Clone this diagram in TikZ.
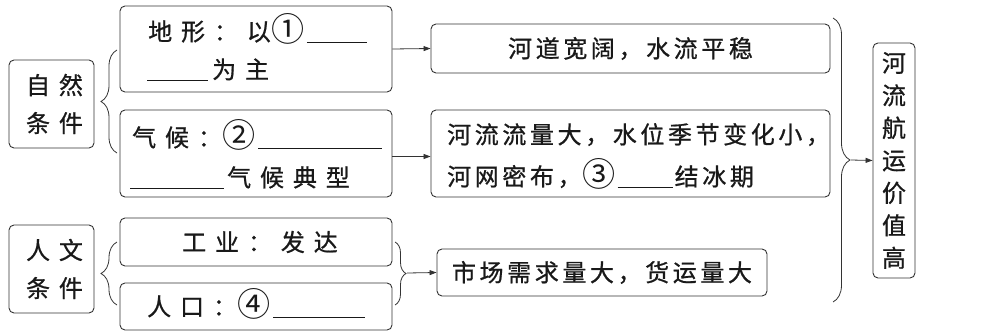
\documentclass[tikz,border=0pt]{standalone}
\usepackage{fontspec}
\newfontfamily\cjkL[LetterSpace=37,FakeBold=0.8]{Noto Sans CJK SC}
\newfontfamily\cjkR[LetterSpace=15,FakeBold=0.8]{Noto Sans CJK SC}
\newfontfamily\cjkN[FakeBold=0.8]{Noto Sans CJK SC}
\newfontfamily\cjkC{Noto Sans CJK SC}
\usetikzlibrary{arrows.meta,decorations.pathreplacing}
\newcommand\blk[1]{\rule[-2pt]{#1pt}{0.9pt}}
\newcommand\cnum[1]{\kern1pt\raisebox{-1.2pt}{\scalebox{1.38}{\cjkC #1}}\kern2pt}
\begin{document}
\begin{tikzpicture}[x=1pt,y=-1pt,
 box/.style={draw=black!80,line width=0.9pt,rounded corners=5pt,inner sep=0pt},
 fl/.style={font=\cjkL\fontsize{24}{28}\selectfont,text=black!90,inner sep=0pt},
 fr/.style={font=\cjkR\fontsize{24}{28}\selectfont,text=black!90,inner sep=0pt},
 arr/.style={line width=0.8pt,draw=black!80,-{Triangle[length=7pt,width=5pt]}},
 brc/.style={line width=0.8pt,draw=black!80,decorate,decoration={brace,amplitude=#1}},
]
\useasboundingbox (0,0) rectangle (996,332);
% boxes
\node[box,minimum width=85pt,minimum height=88pt] (zr) at (51.5,104) {};
\node[box,minimum width=272pt,minimum height=86pt] (dx) at (256,49) {};
\node[box,minimum width=272pt,minimum height=87pt] (qh) at (256,153.5) {};
\node[box,minimum width=399pt,minimum height=49pt] (hd) at (630.5,48.5) {};
\node[box,minimum width=399pt,minimum height=87pt] (hl) at (630.5,153.5) {};
\node[box,minimum width=85pt,minimum height=88pt] (rw) at (51.5,269) {};
\node[box,minimum width=272pt,minimum height=48pt] (gy) at (256,242) {};
\node[box,minimum width=272pt,minimum height=47pt] (rk) at (256,306.5) {};
\node[box,minimum width=330pt,minimum height=47pt] (sc) at (602,272.5) {};
\node[box,minimum width=42pt,minimum height=235pt] (hy) at (894,160.5) {};
% texts
\node[fl,align=center,font=\cjkL\fontsize{24}{38}\selectfont] (tzr) at ([xshift=3pt]zr.center) {自然\\条件};
\node[fl,align=center,font=\cjkL\fontsize{24}{38}\selectfont] (trw) at ([xshift=3pt]rw.center) {人文\\条件};
\node[fl,anchor=base west] (tdx1) at (148,40.5) {地形：以\cnum{①}\blk{60}};
\node[fl,anchor=base west] (tdx2) at (147,78.5) {\blk{61}\kern4pt 为主};
\node[fl,anchor=base west] (tqh1) at (132,146.5) {气候：\cnum{②}\blk{124}};
\node[fl,anchor=base west] (tqh2) at (130,186.5) {\blk{94}\kern3pt 气候典型};
\node[fr] (thd) at (hd) {河道宽阔，水流平稳};
\node[fr,anchor=base west] (thl1) at (447,143.5) {河流流量大，水位季节变化小，};
\node[fr,anchor=base west] (thl2) at (447,185.5) {河网密布，\cnum{③}\blk{55}\kern2pt 结冰期};
\node[fl] (tgy) at ([xshift=4pt]gy.center) {工业：发达};
\node[fl,anchor=base west] (trk) at (147,315.5) {人口：\cnum{④}\blk{92}};
\node[fr] (tsc) at (sc) {市场需求量大，货运量大};
\node[align=center,inner sep=0pt,text=black!90,font=\cjkN\fontsize{24}{32.5}\selectfont] (thy) at (hy) {河\\流\\航\\运\\价\\值\\高};
% braces
\coordinate (b1s) at (117,153); \coordinate (b1e) at (117,50);
\draw[brc=16pt] (b1s) -- (b1e);
\coordinate (b2s) at (117,305); \coordinate (b2e) at (117,242);
\draw[brc=16pt] (b2s) -- (b2e);
\coordinate (b3s) at (395,242); \coordinate (b3e) at (395,305);
\draw[brc=11pt] (b3s) -- (b3e);
\coordinate (b4s) at (833,18); \coordinate (b4e) at (833,302);
\draw[brc=17pt] (b4s) -- (b4e);
\coordinate (t3) at (407,273);
\coordinate (t4) at (851,160);
% arrows
\draw[arr] (dx.east) -- (hd.west);
\draw[arr] ([yshift=-3pt]qh.east) -- ([yshift=-3pt]hl.west);
\draw[arr] (t3) -- (sc.west);
\draw[arr] (t4) -- (hy.west);
\end{tikzpicture}
\end{document}
